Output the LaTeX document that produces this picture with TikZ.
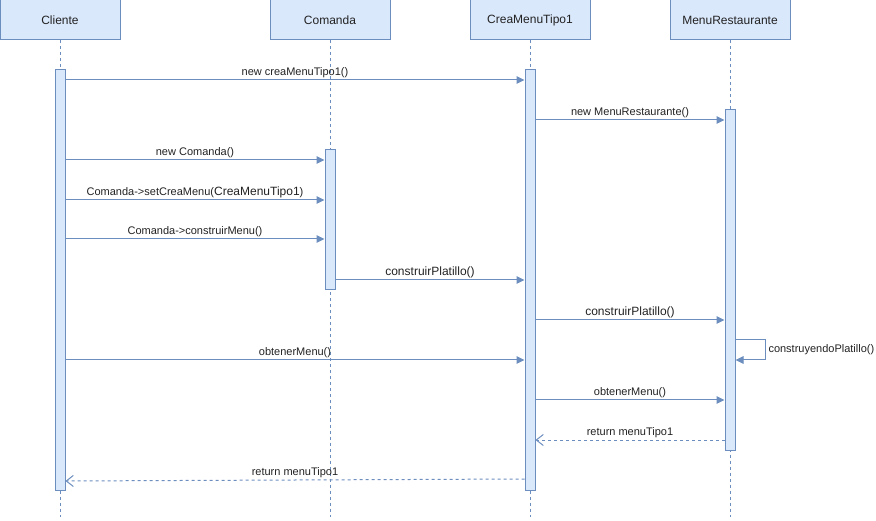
\documentclass[tikz,border=0pt]{standalone}
\usepackage{fontspec}
\setmainfont{Liberation Sans}
\usepackage{xcolor}
\usepackage{tikz}
\usetikzlibrary{arrows.meta,positioning,calc}
\definecolor{seqfill}{HTML}{DAE8FC}
\definecolor{seqline}{HTML}{6C8EBF}
\definecolor{seqtext}{HTML}{222222}

\begin{document}
\begin{tikzpicture}[
    x=1pt,y=-1pt,
    hd/.style   = {rectangle,draw=seqline,fill=seqfill,line width=1pt,
                   minimum width=120pt,minimum height=40pt,
                   font=\fontsize{12}{14}\selectfont,text=seqtext},
    act/.style  = {rectangle,draw=seqline,fill=seqfill,line width=1pt,
                   minimum width=10pt,inner sep=0pt},
    life/.style = {seqline,line width=1pt,dash pattern=on 3pt off 3pt},
    msg/.style  = {-{Triangle[length=8pt,width=7.5pt]},seqline,line width=1pt},
    ret/.style  = {-{Straight Barb[length=7pt,width=11pt]},seqline,line width=1pt,
                   dash pattern=on 3pt off 3pt},
    lbl/.style  = {font=\fontsize{11}{13}\selectfont,text=seqtext,inner sep=1.5pt},
    lblb/.style = {font=\fontsize{12}{14}\selectfont,text=seqtext,inner sep=1.5pt},
  ]
  \useasboundingbox (0,0) rectangle (876,521);

  % objetos
  \node[hd] (hCli) at (60,20)  {Cliente};
  \node[hd] (hCom) at (330,20) {Comanda};
  \node[hd] (hCre) at (530,20) {CreaMenuTipo1};
  \node[hd] (hMen) at (730,20) {MenuRestaurante};

  \foreach \n in {Cli,Com,Cre,Men} \draw[life] (h\n.south) -- (h\n.south |- 0,517);

  % activaciones
  \node[act,minimum height=420pt] (aCli) at (60,280)  {};
  \node[act,minimum height=140pt] (aCom) at (330,220) {};
  \node[act,minimum height=420pt] (aCre) at (530,280) {};
  \node[act,minimum height=340pt] (aMen) at (730,280) {};

  % mensajes
  \foreach \y/\a/\b/\t in {80/aCli/aCre/{new creaMenuTipo1()},
                           120/aCre/aMen/{new MenuRestaurante()},
                           160/aCli/aCom/{new Comanda()},
                           239/aCli/aCom/{Comanda->construirMenu()},
                           360/aCli/aCre/{obtenerMenu()},
                           400/aCre/aMen/{obtenerMenu()}}
    \draw[msg] (\a.east |- 0,\y) -- node[lbl,above] {\t} (\b.west |- 0,\y);
  \draw[msg] (aCli.east |- 0,200) --
    node[lbl,above] {Comanda->setCreaMenu({\fontsize{12}{14}\selectfont CreaMenuTipo1})}
    (aCom.west |- 0,200);
  \draw[msg] (aCom.east |- 0,280) -- node[lblb,above] {construirPlatillo()} (aCre.west |- 0,280);
  \draw[msg] (aCre.east |- 0,320) -- node[lblb,above] {construirPlatillo()} (aMen.west |- 0,320);
  \draw[msg] (aMen.east |- 0,340) -- ++(30,0)
    -- node[lbl,right=1pt] {construyendoPlatillo()} ++(0,20) -- (aMen.east |- 0,360);

  % retornos
  \draw[ret] (aMen.west |- 0,440) -- node[lbl,above] {return menuTipo1} (aCre.east |- 0,440);
  \draw[ret] (aCre.west |- 0,479) -- node[lbl,above] {return menuTipo1} (aCli.east |- 0,481);

\end{tikzpicture}
\end{document}
